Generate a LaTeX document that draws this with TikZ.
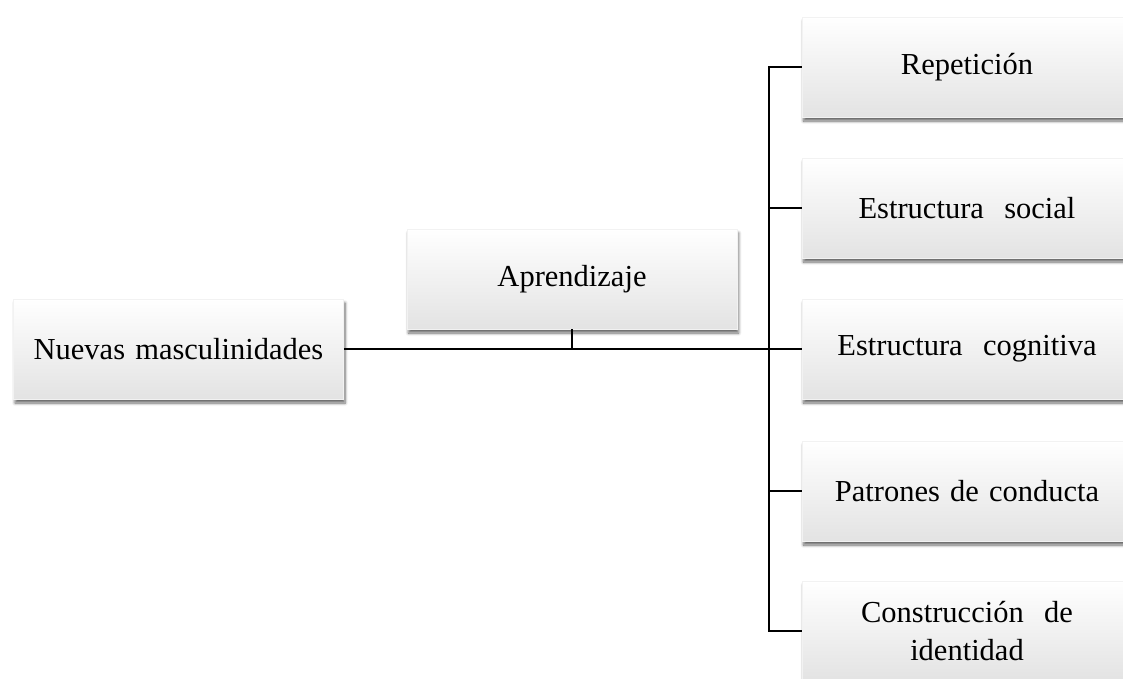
\documentclass[tikz,border=0pt]{standalone}
\usepackage{fontspec}
\setmainfont{Liberation Serif}
\usetikzlibrary{shadows.blur}
\tikzset{
  box/.style={rectangle, minimum width=330pt, minimum height=100pt, inner sep=2pt,
    align=center, text width=320pt, draw=black!5, line width=0.5pt,
    top color=white, middle color=white, bottom color=black!11,
    blur shadow={shadow xshift=1.5pt, shadow yshift=-4pt, shadow blur radius=3pt,
      shadow blur steps=6, shadow opacity=60},
    font=\fontsize{30.5}{38}\selectfont},
  trunk/.style={line width=2.7pt, black},
  branch/.style={line width=2.7pt, black}
}
\begin{document}
\begin{tikzpicture}[x=1pt, y=-1pt]
\useasboundingbox (0,0) rectangle (1123,679);
\node[box] (nuevas) at (178.5,349) {Nuevas masculinidades};
\node[box] (apr) at (572,279) {Aprendizaje};
\node[box] (rep) at (967,67) {Repetición};
\node[box] (soc) at (967,208) {Estructura\ \ social};
\node[box] (cog) at (967,349) {Estructura\ \ cognitiva};
\node[box] (pat) at (967,491) {Patrones de conducta};
\node[box] (con) at (967,631) {Construcción\ \ de\\identidad};
\coordinate (tr) at (769,0);
\draw[trunk] (nuevas.east) -- (nuevas.east -| tr);
\draw[branch] (nuevas.east -| tr) -- (cog.west);
\draw[trunk] (apr.south) -- (apr.south |- nuevas.east);
\draw[trunk, line join=miter] (rep.west) -- (rep.west -| tr) -- (con.west -| tr) -- (con.west);
\draw[branch] (soc.west) -- (soc.west -| tr);
\draw[branch] (pat.west) -- (pat.west -| tr);
\end{tikzpicture}
\end{document}
